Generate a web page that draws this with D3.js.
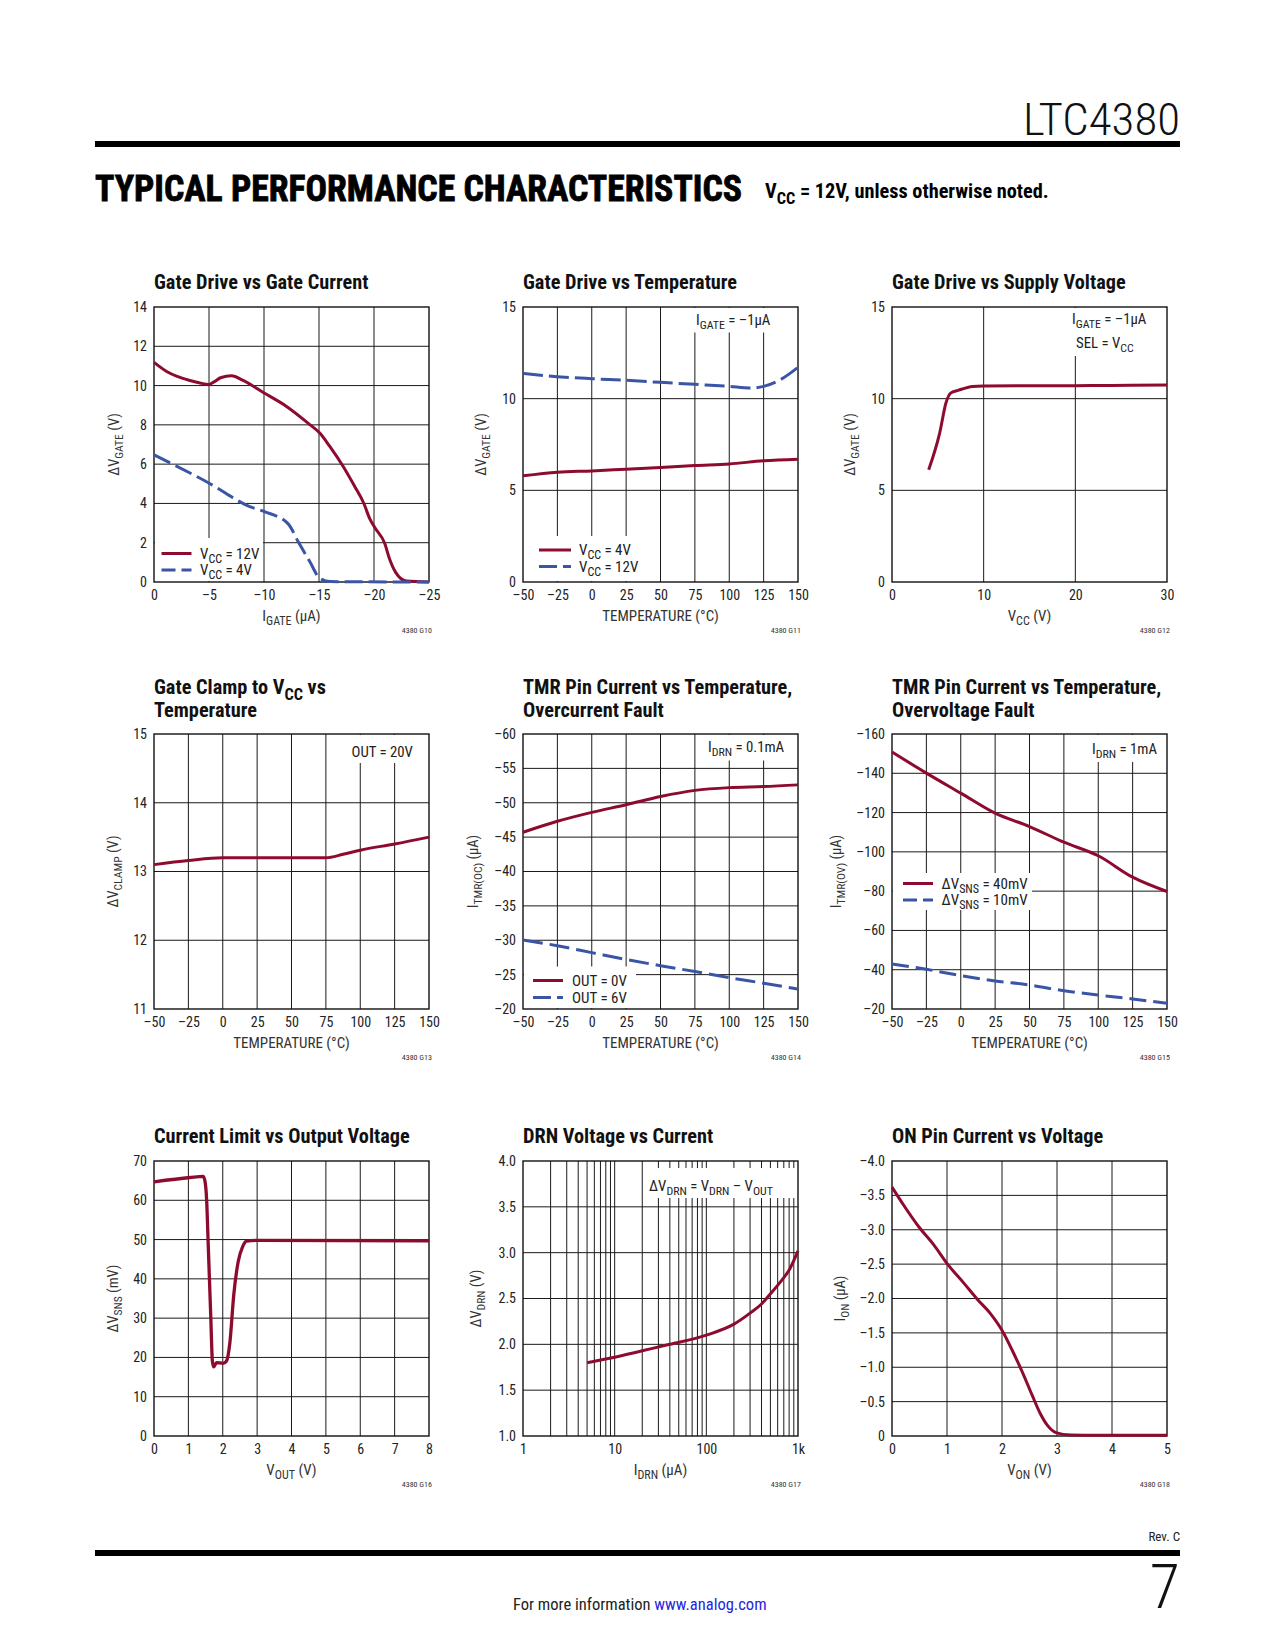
<!DOCTYPE html>
<html><head><meta charset="utf-8">
<script src="https://cdn.jsdelivr.net/npm/d3@7/dist/d3.min.js"></script>
<style>
html,body{margin:0;padding:0;background:#fff;}
svg text{white-space:pre;}
</style>
</head><body>
<svg id="page" width="1275" height="1650"></svg>
<script>
// ---------------- DATA ----------------
// G10 Gate Drive vs Gate Current
const g10XTicks = [0,-5,-10,-15,-20,-25];
const g10XLabels = ["0","\u20135","\u201310","\u201315","\u201320","\u201325"];
const g10YTicks = [0,2,4,6,8,10,12,14];
const g10Igate12 = [0,-1.15,-2.1,-3.27,-4.18,-5,-5.5,-6.05,-7.05,-8.1,-9.93,-12.05,-14,-15.07,-15.98,-17.2,-18.25,-19.07,-19.6,-20.07,-20.97,-21.4,-21.97,-22.94,-25];
const g10Vcc12 = [11.18,10.72,10.47,10.26,10.13,10.06,10.2,10.4,10.5,10.26,9.65,8.94,8.09,7.58,6.9,5.88,4.86,4.01,3.24,2.77,1.97,1.2,0.49,0.05,0];
const g10Igate4 = [0,-5.02,-8.7,-10.05,-12.2,-13.1,-14.16,-15.07,-16,-25];
const g10Vcc4 = [6.47,5.03,3.84,3.58,2.96,2.06,1.04,0.19,0.02,0];

// common temperature axis
const tempTicks = [-50,-25,0,25,50,75,100,125,150];
const tempLabels = ["\u201350","\u201325","0","25","50","75","100","125","150"];

// G11 Gate Drive vs Temperature
const g11YTicks = [0,5,10,15];
const g11Temp4 = [-50,-25,0,25,50,75,100,125,150];
const g11Vcc4 = [5.79,5.99,6.06,6.15,6.24,6.35,6.44,6.61,6.7];
const g11Temp12 = [-50,-25,0,25,50,75,100,115,125,137,150];
const g11Vcc12 = [11.38,11.2,11.09,11.0,10.89,10.78,10.67,10.58,10.67,11.03,11.71];

// G12 Gate Drive vs Supply Voltage
const g12XTicks = [0,10,20,30];
const g12YTicks = [0,5,10,15];
const g12Vcc = [4,5.2,5.9,6.4,7.2,8.8,10,15,20,26,30];
const g12Gate = [6.12,8.12,9.79,10.3,10.45,10.67,10.69,10.71,10.71,10.73,10.75];

// G13 Gate Clamp vs Temperature
const g13YTicks = [11,12,13,14,15];
const g13Temp = [-50,-25,0,25,50,75,87.5,100,125,150];
const g13Clamp = [13.1,13.16,13.2,13.2,13.2,13.2,13.25,13.31,13.4,13.5];

// G14 TMR current, overcurrent fault
const g14YTicks = [-20,-25,-30,-35,-40,-45,-50,-55,-60];
const g14YLabels = ["\u201320","\u201325","\u201330","\u201335","\u201340","\u201345","\u201350","\u201355","\u201360"];
const g14Out0 = [-45.7,-47.3,-48.6,-49.7,-50.9,-51.8,-52.2,-52.35,-52.6];
const g14Out6 = [-30.05,-29.2,-28.2,-27.2,-26.3,-25.45,-24.55,-23.75,-22.9];

// G15 TMR current, overvoltage fault
const g15YTicks = [-20,-40,-60,-80,-100,-120,-140,-160];
const g15YLabels = ["\u201320","\u201340","\u201360","\u201380","\u2013100","\u2013120","\u2013140","\u2013160"];
const g15Sns40 = [-150.8,-140.1,-129.9,-119.7,-112.9,-104.9,-98,-87.1,-79.8];
const g15Sns10 = [-42.9,-40.2,-37.0,-34.3,-32.2,-29.3,-27.1,-25.1,-22.9];

// G16 Current Limit vs Output Voltage
const g16XTicks = [0,1,2,3,4,5,6,7,8];
const g16YTicks = [0,10,20,30,40,50,60,70];
const g16Vout = [0,1.05,1.43,1.48,1.53,1.58,1.65,1.7,1.74,1.82,2.01,2.11,2.21,2.32,2.45,2.58,2.69,2.98,8];
const g16Vsns = [64.7,65.8,66.1,65.0,60.3,48.0,30.8,18.9,17.6,18.7,18.5,19.1,24.0,35.9,44.4,48.2,49.6,49.8,49.7];

// G17 DRN Voltage vs Current
const g17XTicks = [1,10,100,1000];
const g17XLabels = ["1","10","100","1k"];
const g17YTicks = [1,1.5,2,2.5,3,3.5,4];
const g17YLabels = ["1.0","1.5","2.0","2.5","3.0","3.5","4.0"];
const g17Idrn = [5,10,20,40,100,200,300,400,490,630,810,1000];
const g17Vdrn = [1.8,1.86,1.93,2.0,2.1,2.22,2.34,2.44,2.54,2.67,2.82,3.02];

// G18 ON Pin Current vs Voltage
const g18XTicks = [0,1,2,3,4,5];
const g18YTicks = [0,-0.5,-1,-1.5,-2,-2.5,-3,-3.5,-4];
const g18YLabels = ["0","\u20130.5","\u20131.0","\u20131.5","\u20132.0","\u20132.5","\u20133.0","\u20133.5","\u20134.0"];
const g18Von = [0,0.21,0.49,0.76,1.01,1.31,1.55,1.79,2.02,2.19,2.37,2.55,2.7,2.83,2.98,3.25,3.74,5];
const g18Ion = [-3.62,-3.36,-3.04,-2.78,-2.5,-2.22,-1.99,-1.78,-1.51,-1.24,-0.93,-0.59,-0.32,-0.15,-0.05,-0.015,-0.01,-0.01];

// ---------------- STYLE ----------------
const NARROW = "'Liberation Sans Narrow','Arial Narrow','Roboto Condensed','DejaVu Sans Condensed',sans-serif";
const RED = "#8e0b30", BLUE = "#3b55a6";
const W = 275, H = 275;
const COLS = [154, 523, 892], ROWS = [307, 734, 1161];

const svg = d3.select("#page");
svg.append("rect").attr("width",1275).attr("height",1650).attr("fill","#fff");

function rich(t, parts, fs){
  let shift = 0;
  parts.forEach(p=>{
    if (typeof p === "string"){
      const s = t.append("tspan").text(p).attr("font-size", fs);
      if (shift){ s.attr("dy", -shift); shift = 0; }
    } else {
      const d = fs*0.28;
      t.append("tspan").text(p.sub).attr("font-size", fs*0.8).attr("dy", d);
      shift = d;
    }
  });
  return t;
}

function chart(o){
  const g = svg.append("g").attr("transform", `translate(${o.left},${o.top})`);
  const x = o.x.range([0,W]);
  const y = o.y.range([H,0]);
  // grid
  g.selectAll(null).data(o.xGrid).join("line")
    .attr("x1",d=>x(d)).attr("x2",d=>x(d)).attr("y1",0).attr("y2",H)
    .attr("stroke","#1a1a1a").attr("stroke-width",1);
  g.selectAll(null).data(o.yGrid).join("line")
    .attr("y1",d=>y(d)).attr("y2",d=>y(d)).attr("x1",0).attr("x2",W)
    .attr("stroke","#1a1a1a").attr("stroke-width",1);
  // white boxes behind legend/annotation
  (o.masks||[]).forEach(m=>{
    g.append("rect").attr("x",m[0]).attr("y",m[1]).attr("width",m[2]-m[0]).attr("height",m[3]-m[1]).attr("fill","#fff");
  });
  // frame
  g.append("rect").attr("width",W).attr("height",H).attr("fill","none").attr("stroke","#111").attr("stroke-width",1.4);
  // axes
  const xa = g.append("g").attr("transform",`translate(0,${H})`)
    .call(d3.axisBottom(x).tickValues(o.xTicks).tickFormat((d,i)=>o.xLabels?o.xLabels[i]:String(d)).tickSize(0).tickPadding(8.4));
  const ya = g.append("g")
    .call(d3.axisLeft(y).tickValues(o.yTicks).tickFormat((d,i)=>o.yLabels?o.yLabels[i]:String(d)).tickSize(0).tickPadding(7));
  [xa,ya].forEach(a=>{
    a.select(".domain").remove();
    a.attr("font-family",null).attr("font-size",null);
    a.selectAll("text").attr("font-family",NARROW).attr("font-size",14).attr("fill","#222");
  });
  // series
  o.series.forEach(s=>{
    const pts = s.x.map((v,i)=>[v,s.y[i]]);
    g.append("path").datum(pts)
      .attr("d", d3.line().x(d=>x(d[0])).y(d=>y(d[1])).curve(s.curve||d3.curveMonotoneX))
      .attr("fill","none").attr("stroke",s.color).attr("stroke-width",s.width||3)
      .attr("stroke-dasharray",s.dash||null).attr("stroke-linejoin","round").attr("stroke-linecap","butt");
  });
  // legend
  (o.legend||[]).forEach(L=>{
    g.append("line").attr("x1",L.x1).attr("x2",L.x2).attr("y1",L.y).attr("y2",L.y)
      .attr("stroke",L.color).attr("stroke-width",3).attr("stroke-dasharray",L.dash||null);
    rich(g.append("text").attr("x",L.tx).attr("y",L.y+5).attr("font-family",NARROW).attr("fill","#222"), L.label, 15);
  });
  // annotations
  (o.notes||[]).forEach(n=>{
    rich(g.append("text").attr("x",n.x).attr("y",n.y).attr("font-family",NARROW).attr("fill","#222"), n.label, 14.8);
  });
  // title
  o.title.forEach((line,i)=>{
    const ty = o.title.length===1 ? -18 : (i===0 ? -40 : -17.5);
    rich(g.append("text").attr("x",0).attr("y",ty).attr("font-family",NARROW).attr("font-weight","bold").attr("fill","#111"), line, 20.3);
  });
  // axis titles
  rich(g.append("text").attr("x",W/2).attr("y",H+39).attr("text-anchor","middle").attr("font-family",NARROW).attr("fill","#333"), o.xTitle, 15);
  rich(g.append("text").attr("transform",`translate(${o.yTitleX+5},${H/2}) rotate(-90)`).attr("text-anchor","middle").attr("font-family",NARROW).attr("fill","#333"), o.yTitle, 14.5);
  // code
  g.append("text").attr("x",W+3).attr("y",H+51).attr("text-anchor","end").attr("font-family",NARROW).attr("font-size",8).attr("fill","#333").text(o.code);
}

const range = (a,b,s)=>d3.range(a,b+s/2,s);
const DASH = "18,6";

// ---------------- CHARTS ----------------
chart({left:COLS[0], top:ROWS[0], x:d3.scaleLinear().domain([0,-25]), y:d3.scaleLinear().domain([0,14]),
  xTicks:g10XTicks, xLabels:g10XLabels, yTicks:g10YTicks,
  xGrid:[-5,-10,-15,-20], yGrid:[2,4,6,8,10,12],
  masks:[[1,231,109,274]],
  series:[{x:g10Igate12,y:g10Vcc12,color:RED},{x:g10Igate4,y:g10Vcc4,color:BLUE,dash:DASH}],
  legend:[{x1:7.5,x2:37.5,y:246.5,tx:46,color:RED,label:["V",{sub:"CC"}," = 12V"]},
          {x1:7.5,x2:37.5,y:263,tx:46,color:BLUE,dash:"14,6",label:["V",{sub:"CC"}," = 4V"]}],
  title:[["Gate Drive vs Gate Current"]],
  xTitle:["I",{sub:"GATE"}," (\u03bcA)"], yTitle:["\u0394V",{sub:"GATE"}," (V)"], yTitleX:-40, code:"4380 G10"});

chart({left:COLS[1], top:ROWS[0], x:d3.scaleLinear().domain([-50,150]), y:d3.scaleLinear().domain([0,15]),
  xTicks:tempTicks, xLabels:tempLabels, yTicks:g11YTicks,
  xGrid:range(-25,125,25), yGrid:[5,10],
  masks:[[1,229,117,274],[160,1,274,25.5]],
  series:[{x:g11Temp4,y:g11Vcc4,color:RED},{x:g11Temp12,y:g11Vcc12,color:BLUE,dash:"20,6"}],
  legend:[{x1:16,x2:48,y:243,tx:56,color:RED,label:["V",{sub:"CC"}," = 4V"]},
          {x1:16,x2:48,y:259.5,tx:56,color:BLUE,dash:"18,6",label:["V",{sub:"CC"}," = 12V"]}],
  notes:[{x:173,y:18,label:["I",{sub:"GATE"}," = \u20131\u03bcA"]}],
  title:[["Gate Drive vs Temperature"]],
  xTitle:["TEMPERATURE (\u00b0C)"], yTitle:["\u0394V",{sub:"GATE"}," (V)"], yTitleX:-42, code:"4380 G11"});

chart({left:COLS[2], top:ROWS[0], x:d3.scaleLinear().domain([0,30]), y:d3.scaleLinear().domain([0,15]),
  xTicks:g12XTicks, yTicks:g12YTicks,
  xGrid:[10,20], yGrid:[5,10],
  masks:[[170,1,274,49]],
  series:[{x:g12Vcc,y:g12Gate,color:RED}],
  notes:[{x:180,y:17,label:["I",{sub:"GATE"}," = \u20131\u03bcA"]},{x:184,y:40.5,label:["SEL = V",{sub:"CC"}]}],
  title:[["Gate Drive vs Supply Voltage"]],
  xTitle:["V",{sub:"CC"}," (V)"], yTitle:["\u0394V",{sub:"GATE"}," (V)"], yTitleX:-42, code:"4380 G12"});

chart({left:COLS[0], top:ROWS[1], x:d3.scaleLinear().domain([-50,150]), y:d3.scaleLinear().domain([11,15]),
  xTicks:tempTicks, xLabels:tempLabels, yTicks:g13YTicks,
  xGrid:range(-25,125,25), yGrid:[12,13,14],
  masks:[[192,1,274,29]],
  series:[{x:g13Temp,y:g13Clamp,color:RED}],
  notes:[{x:197.5,y:22.5,label:["OUT = 20V"]}],
  title:[["Gate Clamp to V",{sub:"CC"}," vs"],["Temperature"]],
  xTitle:["TEMPERATURE (\u00b0C)"], yTitle:["\u0394V",{sub:"CLAMP"}," (V)"], yTitleX:-41, code:"4380 G13"});

chart({left:COLS[1], top:ROWS[1], x:d3.scaleLinear().domain([-50,150]), y:d3.scaleLinear().domain([-20,-60]),
  xTicks:tempTicks, xLabels:tempLabels, yTicks:g14YTicks, yLabels:g14YLabels,
  xGrid:range(-25,125,25), yGrid:[-25,-30,-35,-40,-45,-50,-55],
  masks:[[1,232.5,113,274],[180,1,274,26.5]],
  series:[{x:tempTicks,y:g14Out0,color:RED},{x:tempTicks,y:g14Out6,color:BLUE,dash:"20,7"}],
  legend:[{x1:10,x2:40,y:246.5,tx:49,color:RED,label:["OUT = 0V"]},
          {x1:10,x2:40,y:263.5,tx:49,color:BLUE,dash:"18,6",label:["OUT = 6V"]}],
  notes:[{x:185,y:18,label:["I",{sub:"DRN"}," = 0.1mA"]}],
  title:[["TMR Pin Current vs Temperature,"],["Overcurrent Fault"]],
  xTitle:["TEMPERATURE (\u00b0C)"], yTitle:["I",{sub:"TMR(OC)"}," (\u03bcA)"], yTitleX:-50, code:"4380 G14"});

chart({left:COLS[2], top:ROWS[1], x:d3.scaleLinear().domain([-50,150]), y:d3.scaleLinear().domain([-20,-160]),
  xTicks:tempTicks, xLabels:tempLabels, yTicks:g15YTicks, yLabels:g15YLabels,
  xGrid:range(-25,125,25), yGrid:[-40,-60,-80,-100,-120,-140],
  masks:[[1,139,140,176],[188,1,274,28]],
  series:[{x:tempTicks,y:g15Sns40,color:RED},{x:tempTicks,y:g15Sns10,color:BLUE,dash:"17,7"}],
  legend:[{x1:11,x2:41,y:149.5,tx:49.5,color:RED,label:["\u0394V",{sub:"SNS"}," = 40mV"]},
          {x1:11,x2:41,y:166,tx:49.5,color:BLUE,dash:"14,6",label:["\u0394V",{sub:"SNS"}," = 10mV"]}],
  notes:[{x:200,y:20,label:["I",{sub:"DRN"}," = 1mA"]}],
  title:[["TMR Pin Current vs Temperature,"],["Overvoltage Fault"]],
  xTitle:["TEMPERATURE (\u00b0C)"], yTitle:["I",{sub:"TMR(OV)"}," (\u03bcA)"], yTitleX:-56, code:"4380 G15"});

chart({left:COLS[0], top:ROWS[2], x:d3.scaleLinear().domain([0,8]), y:d3.scaleLinear().domain([0,70]),
  xTicks:g16XTicks, yTicks:g16YTicks,
  xGrid:[1,2,3,4,5,6,7], yGrid:[10,20,30,40,50,60],
  series:[{x:g16Vout,y:g16Vsns,color:RED,width:3.3}],
  title:[["Current Limit vs Output Voltage"]],
  xTitle:["V",{sub:"OUT"}," (V)"], yTitle:["\u0394V",{sub:"SNS"}," (mV)"], yTitleX:-41, code:"4380 G16"});

const logGrid = [2,3,4,5,6,7,8,9,10,20,30,40,50,60,70,80,90,100,200,300,400,500,600,700,800,900];
chart({left:COLS[1], top:ROWS[2], x:d3.scaleLog().domain([1,1000]), y:d3.scaleLinear().domain([1,4]),
  xTicks:g17XTicks, xLabels:g17XLabels, yTicks:g17YTicks, yLabels:g17YLabels,
  xGrid:logGrid, yGrid:[1.5,2,2.5,3,3.5],
  masks:[[122,7,273,37]],
  series:[{x:g17Idrn,y:g17Vdrn,color:RED}],
  notes:[{x:126,y:30,label:["\u0394V",{sub:"DRN"}," = V",{sub:"DRN"}," \u2013 V",{sub:"OUT"}]}],
  title:[["DRN Voltage vs Current"]],
  xTitle:["I",{sub:"DRN"}," (\u03bcA)"], yTitle:["\u0394V",{sub:"DRN"}," (V)"], yTitleX:-47, code:"4380 G17"});

chart({left:COLS[2], top:ROWS[2], x:d3.scaleLinear().domain([0,5]), y:d3.scaleLinear().domain([0,-4]),
  xTicks:g18XTicks, yTicks:g18YTicks, yLabels:g18YLabels,
  xGrid:[1,2,3,4], yGrid:[-0.5,-1,-1.5,-2,-2.5,-3,-3.5],
  series:[{x:g18Von,y:g18Ion,color:RED}],
  title:[["ON Pin Current vs Voltage"]],
  xTitle:["V",{sub:"ON"}," (V)"], yTitle:["I",{sub:"ON"}," (\u03bcA)"], yTitleX:-52, code:"4380 G18"});

// ---------------- PAGE FURNITURE ----------------
svg.append("text").attr("x",1180).attr("y",135).attr("text-anchor","end")
  .attr("font-family",NARROW).attr("font-weight",300).attr("font-size",44).attr("fill","#111")
  .attr("textLength",157).attr("lengthAdjust","spacingAndGlyphs").text("LTC4380");
svg.append("rect").attr("x",95).attr("y",141).attr("width",1085).attr("height",6).attr("fill","#000");
svg.append("text").attr("x",95).attr("y",201)
  .attr("font-family",NARROW).attr("font-weight","bold").attr("font-size",36).attr("fill","#000")
  .attr("stroke","#000").attr("stroke-width",0.8)
  .attr("textLength",647).attr("lengthAdjust","spacingAndGlyphs").text("TYPICAL PERFORMANCE CHARACTERISTICS");
rich(svg.append("text").attr("x",765).attr("y",198).attr("font-family",NARROW).attr("font-weight","bold").attr("fill","#000"),
  ["V",{sub:"CC"}," = 12V, unless otherwise noted."], 20.3);

svg.append("text").attr("x",1180).attr("y",1541).attr("text-anchor","end")
  .attr("font-family",NARROW).attr("font-size",13).attr("fill","#222").text("Rev. C");
svg.append("rect").attr("x",95).attr("y",1550).attr("width",1085).attr("height",6).attr("fill","#000");
svg.append("text").attr("x",1180).attr("y",1608).attr("text-anchor","end")
  .attr("font-family",NARROW).attr("font-weight",300).attr("font-size",62).attr("fill","#111").text("7");
const foot = svg.append("text").attr("x",513).attr("y",1610).attr("font-family",NARROW).attr("font-size",16.5).attr("fill","#222");
foot.append("tspan").text("For more information ");
foot.append("tspan").attr("fill","#2626e0").text("www.analog.com");
</script>
</body></html>
